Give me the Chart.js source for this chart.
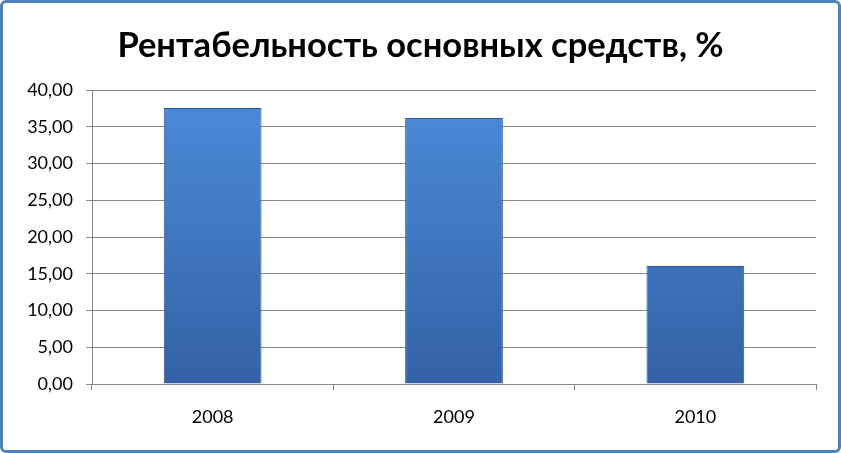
<!DOCTYPE html>
<html>
<head>
<meta charset="utf-8">
<script src="https://cdn.jsdelivr.net/npm/chart.js@4"></script>
<style>
  html, body { margin: 0; padding: 0; background: #fff; }
  #wrap { position: relative; width: 841px; height: 453px; }
  #wrap canvas { position: absolute; left: 0; top: 0; }
  #frame { position: absolute; left: 0; top: 0; width: 841px; height: 453px; box-sizing: border-box;
           border: 3px solid #4F81BD; border-radius: 6px; pointer-events: none; }
</style>
</head>
<body>
<div id="wrap">
  <canvas id="c" width="841" height="453"></canvas>
  <div id="frame"></div>
</div>
<script>
const titleText = 'Рентабельность основных средств, %';
const categories = ['2008', '2009', '2010'];
const values = [37.55, 36.2, 16.05];
const yTicks = [0, 5, 10, 15, 20, 25, 30, 35, 40];

const fmt = v => v.toFixed(2).replace('.', ',');

function barFill(ctx) {
  const area = ctx.chart.chartArea;
  if (!area) return '#4178C4';
  const g = ctx.chart.ctx.createLinearGradient(0, area.top, 0, area.bottom);
  g.addColorStop(0, '#4C8BDA');
  g.addColorStop(1, '#3362A6');
  return g;
}

new Chart(document.getElementById('c'), {
  type: 'bar',
  data: {
    labels: categories,
    datasets: [{
      data: values,
      backgroundColor: barFill,
      borderColor: '#2C5A96',
      borderWidth: 1,
      barPercentage: 0.405,
      categoryPercentage: 1.0
    }]
  },
  options: {
    responsive: false,
    animation: false,
    devicePixelRatio: 1,
    layout: { padding: { left: 25, right: 25, top: 0, bottom: 0 } },
    plugins: {
      legend: { display: false },
      tooltip: { enabled: false },
      title: {
        display: true,
        text: titleText,
        color: '#000',
        font: { family: "Lato, 'Liberation Sans', Arial, sans-serif", size: 34.5, weight: 'bold', lineHeight: 1.2 },
        padding: { top: 25, bottom: 23.6 }
      }
    },
    scales: {
      x: {
        grid: { display: true, drawOnChartArea: false, drawTicks: true, tickLength: 6, offset: true, color: '#868686' },
        border: { display: true, color: '#868686', width: 1 },
        ticks: { color: '#000', padding: 16, font: { family: "Lato, 'Open Sans', sans-serif", size: 18 } },
        afterFit: s => { s.height = 69; }
      },
      y: {
        min: 0, max: 40,
        afterBuildTicks: s => { s.ticks = yTicks.map(v => ({ value: v })); },
        grid: { color: '#868686', tickLength: 6 },
        border: { display: true, color: '#868686', width: 1 },
        ticks: { color: '#000', padding: 13, font: { family: "Lato, 'Open Sans', sans-serif", size: 18 }, callback: v => fmt(v) },
        afterFit: s => { s.width = 67; }
      }
    }
  }
});
</script>
</body>
</html>
